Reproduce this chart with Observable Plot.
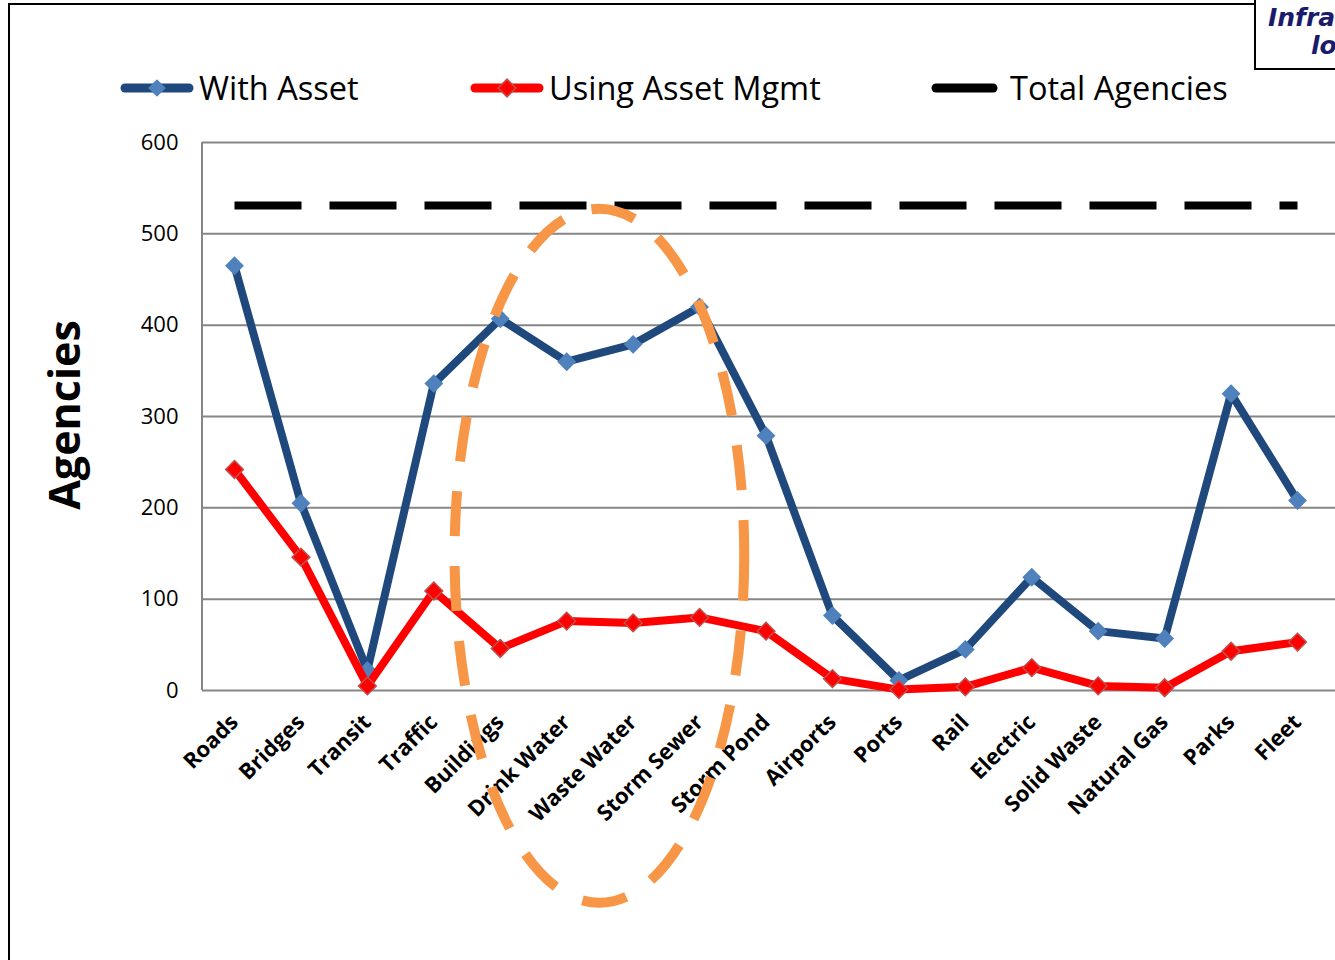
<!DOCTYPE html>
<html><head><meta charset="utf-8">
<script src="https://cdn.jsdelivr.net/npm/d3@7"></script>
<script src="https://cdn.jsdelivr.net/npm/@observablehq/plot@0.6"></script>
<style>
html,body{margin:0;padding:0;background:#fff;overflow:hidden;}
#wrap{position:relative;width:1335px;height:960px;overflow:hidden;font-family:"Open Sans",sans-serif;background:#fff;}
#chart{position:absolute;left:0;top:0;}
#frame{position:absolute;left:8px;top:3px;width:1400px;height:1000px;border-left:2px solid #000;border-top:2px solid #000;box-sizing:border-box;}
#logo{position:absolute;left:1254px;top:-2px;width:120px;height:72px;border:2px solid #000;background:#fff;box-sizing:border-box;font-family:"DejaVu Sans",sans-serif;font-weight:bold;font-style:italic;color:#1b1b6b;font-size:25px;line-height:28px;}
#legend{position:absolute;left:0;top:0;}
#ylabel{position:absolute;left:63px;top:415px;transform:translate(-50%,-50%) rotate(-90deg);font-weight:bold;font-size:43px;white-space:nowrap;color:#000;}
</style></head><body>
<div id="wrap">
  <div id="frame"></div>
  <div id="chart"></div>
  <svg id="legend" width="1335" height="130"></svg>
  <div id="ylabel">Agencies</div>
  <div id="logo"><div style="position:absolute;left:12px;top:4px;">Infra</div><div style="position:absolute;left:55px;top:32px;">lo</div></div>
</div>
<script>
const categories = ["Roads","Bridges","Transit","Traffic","Buildings","Drink Water","Waste Water","Storm Sewer","Storm Pond","Airports","Ports","Rail","Electric","Solid Waste","Natural Gas","Parks","Fleet"];
const withAsset = [465,205,22,336,407,360,379,420,279,82,11,45,124,65,57,325,208];
const usingAssetMgmt = [242,146,5,109,46,76,74,80,65,13,1,4,25,5,3,43,53];
const totalAgencies = [531];
const yTicks = [0,100,200,300,400,500,600];
const seriesNames = ["With Asset","Using Asset Mgmt","Total Agencies"];
// highlight ellipse, in data terms: centred between two categories
const highlightBetween = ["Drink Water","Waste Water"];
const highlightY = [147, 380];     // centre value, vertical radius (agencies)
const highlightXSteps = [2.18];    // horizontal radius in category steps

const blueLine = "#1F497D", blueFill = "#4F81BD";
const red = "#FF0000", redEdge = "#C0504D";
const orange = "#F79646";

const rows = categories.map((c,i)=>({cat:c, a:withAsset[i], m:usingAssetMgmt[i], t:totalAgencies[0]}));

function leftAxisLine(index, scales, values, dimensions) {
  const {marginLeft, marginTop, height, marginBottom} = dimensions;
  return d3.create("svg:line")
    .attr("x1", marginLeft).attr("x2", marginLeft)
    .attr("y1", marginTop).attr("y2", height - marginBottom)
    .attr("stroke", "#868686").attr("stroke-width", 2).node();
}
function highlightEllipse(index, scales) {
  const x = scales.x, y = scales.y;
  const x0 = x(highlightBetween[0]), x1 = x(highlightBetween[1]);
  const cx = (x0 + x1) / 2, step = x1 - x0;
  const cy = y(highlightY[0]);
  const ry = Math.abs(y(highlightY[0] + highlightY[1]) - cy);
  return d3.create("svg:ellipse")
    .attr("cx", cx).attr("cy", cy).attr("rx", step * highlightXSteps[0]).attr("ry", ry)
    .attr("fill", "none").attr("stroke", orange).attr("stroke-width", 10)
    .attr("stroke-dasharray", "45 30").node();
}

const chart = Plot.plot({
  width: 1335, height: 960,
  marginLeft: 202, marginRight: 0, marginTop: 142, marginBottom: 270,
  style: {fontFamily: '"Open Sans", sans-serif', background: "transparent", color: "#000", overflow: "visible"},
  x: {type: "point", domain: categories, range: [234, 1297], padding: 0, round: false, axis: null},
  y: {domain: [0, 600], axis: null},
  marks: [
    Plot.gridY(yTicks, {stroke: "#868686", strokeOpacity: 1, strokeWidth: 2}),
    leftAxisLine,
    Plot.axisY(yTicks, {tickSize: 0, tickPadding: 24, fontSize: 22, label: null, tickFormat: d => String(d)}),
    Plot.axisX(categories, {tickSize: 0, tickPadding: 28, tickRotate: -45, fontSize: 22, fontWeight: "bold", label: null}),
    Plot.line(rows, {x: "cat", y: "t", stroke: "#000", strokeWidth: 8, strokeDasharray: "67 28", strokeLinecap: "butt"}),
    Plot.line(rows, {x: "cat", y: "a", stroke: blueLine, strokeWidth: 8, strokeLinejoin: "round"}),
    Plot.dot(rows, {x: "cat", y: "a", symbol: "diamond2", r: 8.5, fill: blueFill, stroke: "none"}),
    Plot.line(rows, {x: "cat", y: "m", stroke: red, strokeWidth: 8, strokeLinejoin: "round"}),
    Plot.dot(rows, {x: "cat", y: "m", symbol: "diamond2", r: 8, fill: red, stroke: redEdge, strokeWidth: 1.5}),
    highlightEllipse
  ]
});
document.getElementById("chart").appendChild(chart);

// legend
const lg = d3.select("#legend");
const legendX = [121, 471, 932];
const legendSw = [72, 72, 65];
const legendStroke = [blueLine, red, "#000"];
const legendFill = [blueFill, red, null];
seriesNames.forEach((name, i) => {
  const x0 = legendX[i], x1 = x0 + legendSw[i], y = 88;
  lg.append("line").attr("x1", x0 + 4).attr("x2", x1 - 4).attr("y1", y).attr("y2", y)
    .attr("stroke", legendStroke[i]).attr("stroke-width", 9).attr("stroke-linecap", "round");
  if (legendFill[i]) {
    const cx = (x0 + x1) / 2;
    lg.append("path").attr("d", d3.symbol(d3.symbolDiamond2, 200)()).attr("transform", `translate(${cx},${y})`)
      .attr("fill", legendFill[i]).attr("stroke", i === 1 ? redEdge : "none").attr("stroke-width", 1.5);
  }
  lg.append("text").attr("x", x1 + (i === 2 ? 13 : 6)).attr("y", y + 12)
    .attr("font-family", '"Open Sans", sans-serif').attr("font-size", 32.5).attr("fill", "#000").text(name);
});
</script>
</body></html>
